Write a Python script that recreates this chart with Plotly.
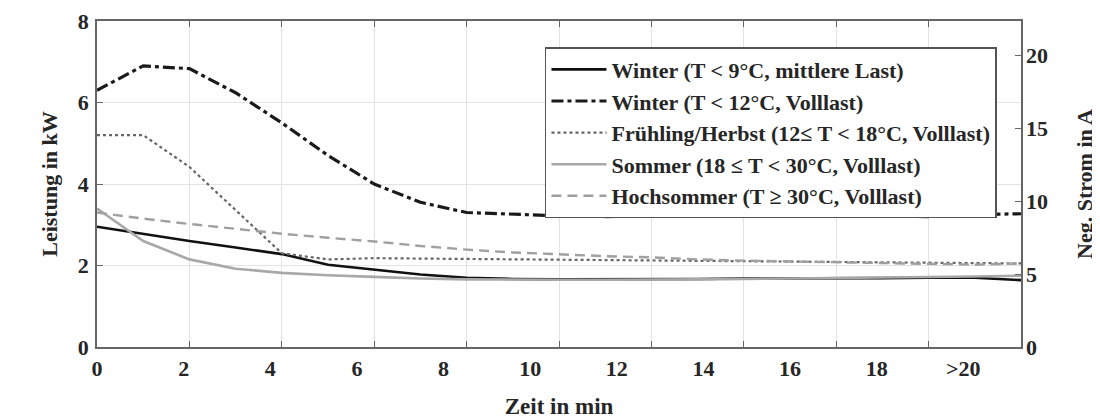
import plotly.graph_objects as go

# grid-unit time index (data sampled every grid unit)
t_index = list(range(21))

winter_mittel = [2.95, 2.77, 2.60, 2.44, 2.28, 2.02, 1.90, 1.78, 1.70, 1.67, 1.66,
                 1.66, 1.66, 1.67, 1.68, 1.68, 1.68, 1.69, 1.70, 1.70, 1.64]
winter_voll = [6.30, 6.90, 6.83, 6.24, 5.50, 4.70, 4.00, 3.55, 3.30, 3.25, 3.22,
               3.20, 3.22, 3.28, 3.28, 3.32, 3.33, 3.22, 3.20, 3.25, 3.27]
fruehling = [5.20, 5.20, 4.42, 3.35, 2.30, 2.15, 2.18, 2.17, 2.16, 2.15, 2.15,
             2.14, 2.13, 2.12, 2.10, 2.10, 2.08, 2.07, 2.06, 2.05, 2.05]
sommer = [3.40, 2.60, 2.15, 1.92, 1.82, 1.76, 1.72, 1.68, 1.66, 1.65, 1.65,
          1.65, 1.65, 1.66, 1.67, 1.68, 1.69, 1.70, 1.71, 1.73, 1.75]
hochsommer = [3.30, 3.15, 3.02, 2.90, 2.78, 2.68, 2.59, 2.48, 2.39, 2.32, 2.27,
              2.23, 2.20, 2.15, 2.12, 2.10, 2.08, 2.06, 2.03, 2.02, 2.05]

series_names = [
    "Winter (T < 9°C, mittlere Last)",
    "Winter (T < 12°C, Volllast)",
    "Frühling/Herbst (12≤ T < 18°C, Volllast)",
    "Sommer (18 ≤ T < 30°C, Volllast)",
    "Hochsommer (T ≥ 30°C, Volllast)",
]

x_tick_values = [0, 2, 4, 6, 8, 10, 12, 14, 16, 18, 20]
x_tick_text = ["0", "2", "4", "6", "8", "10", "12", "14", "16", "18", ">20"]
y_left_ticks = [0, 2, 4, 6, 8]
y_right_ticks = [0, 5, 10, 15, 20]

FONT = "Liberation Serif"
TXT = "#262626"
AX = "#666666"
GRID = "#e3e3e3"

styles = [
    dict(color="#111111", width=2.6, dash="solid"),
    dict(color="#1a1a1a", width=3.2, dash="12px,4px,4px,4px"),
    dict(color="#666666", width=2.2, dash="3px,3px"),
    dict(color="#a8a8a8", width=2.6, dash="solid"),
    dict(color="#a0a0a0", width=2.4, dash="10px,6px"),
]

fig = go.Figure()
for name, ys, st in zip(series_names,
                        [winter_mittel, winter_voll, fruehling, sommer, hochsommer],
                        styles):
    fig.add_trace(go.Scatter(x=t_index, y=ys, mode="lines", name=name, line=st,
                             xaxis="x", yaxis="y"))

# carrier trace for overlay axes
fig.add_trace(go.Scatter(x=[None], y=[None], xaxis="x2", yaxis="y2",
                         showlegend=False, hoverinfo="skip"))

tickfont = dict(family=FONT, size=22, color=TXT, weight="bold")
xtitlefont = dict(family=FONT, size=23, color=TXT, weight="bold")
ytitlefont = dict(family=FONT, size=22, color=TXT, weight="bold")

fig.update_layout(
    width=1100, height=420,
    margin=dict(l=89, r=87, t=13, b=81, autoexpand=False),
    paper_bgcolor="white", plot_bgcolor="white",
    font=dict(family=FONT, color=TXT, size=19),
    xaxis=dict(range=[0, 20], tickvals=list(range(0, 21, 2)), showticklabels=False,
               ticks="inside", ticklen=6, tickcolor=AX, mirror="ticks",
               showline=True, linecolor=AX, linewidth=1.5, automargin=False,
               showgrid=True, gridcolor=GRID, zeroline=False),
    xaxis2=dict(overlaying="x", anchor="y", side="bottom", range=[0, 21.333],
                tickvals=x_tick_values, ticktext=x_tick_text, automargin=False,
                ticks="", showgrid=False, showline=False, zeroline=False,
                tickfont=tickfont, ticklabelstandoff=6, ticklabeloverflow="allow",
                title=dict(text="Zeit in min", font=xtitlefont, standoff=17)),
    yaxis=dict(range=[0, 8], tickvals=y_left_ticks, ticks="inside", ticklen=6,
               tickcolor=AX, showline=True, linecolor=AX, linewidth=1.5, mirror=True,
               showgrid=True, gridcolor=GRID, zeroline=False, automargin=False,
               tickfont=tickfont, ticklabelstandoff=2, ticklabeloverflow="allow",
               title=dict(text="Leistung in kW", font=ytitlefont, standoff=14)),
    yaxis2=dict(overlaying="y", side="right", anchor="x", range=[0, 22.37],
                tickvals=y_right_ticks, ticks="inside", ticklen=6, tickcolor=AX,
                showgrid=False, showline=False, zeroline=False, automargin=False,
                tickfont=tickfont, ticklabelstandoff=4, ticklabeloverflow="allow",
                title=dict(text="Neg. Strom in A", font=ytitlefont, standoff=29)),
    legend=dict(x=0.974, y=0.92, xanchor="right", yanchor="top",
                bgcolor="white", bordercolor="#555555", borderwidth=1.5,
                font=dict(family=FONT, size=22, color=TXT, weight="bold"),
                itemwidth=55, tracegroupgap=0),
    showlegend=True,
)

fig.write_html("out.html")
